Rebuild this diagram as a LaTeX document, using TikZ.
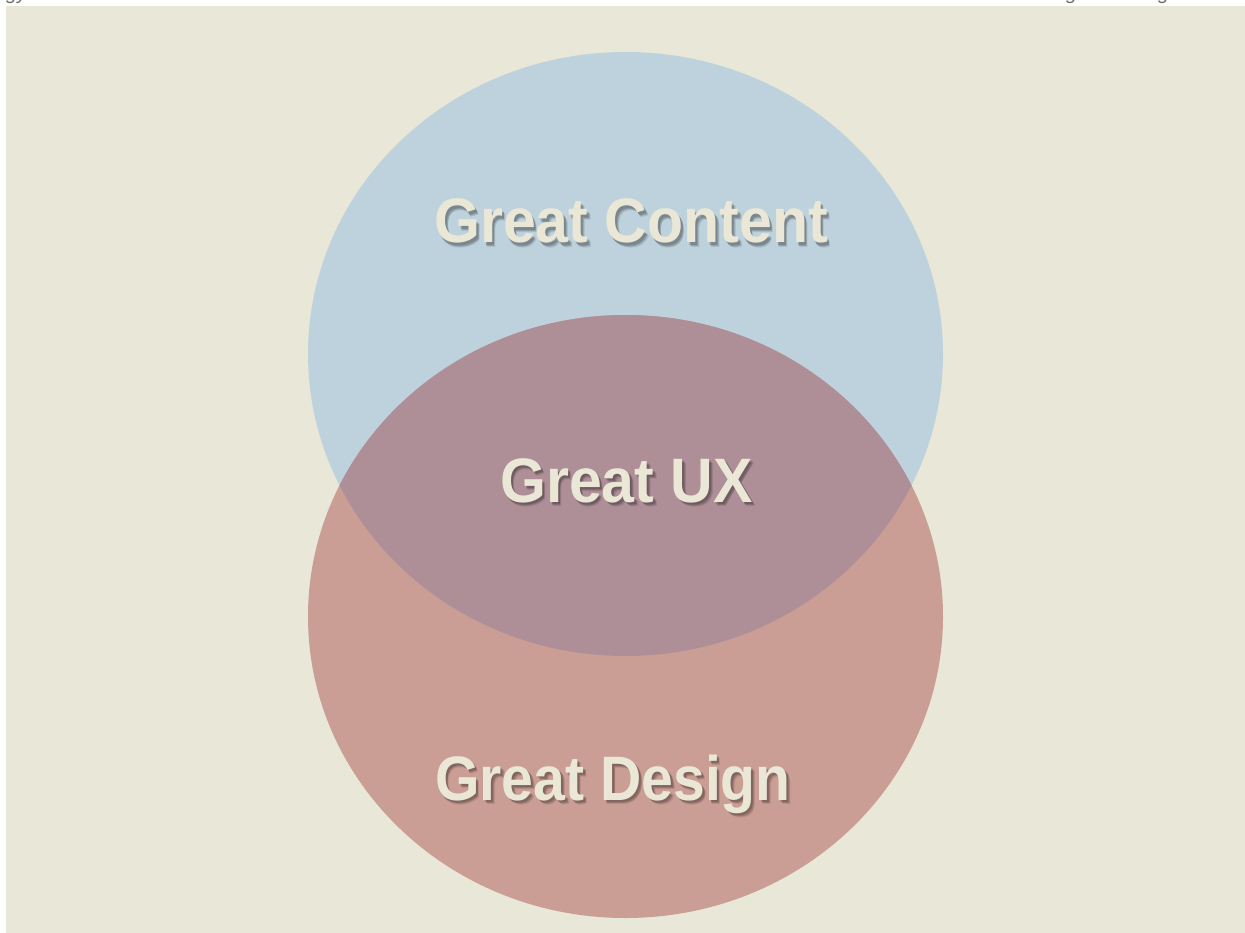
\documentclass[tikz,border=0pt]{standalone}
\usepackage{fontspec}
\setmainfont{Liberation Sans}
\newfontfamily\labelfont{Liberation Sans}[FakeStretch=0.94]
\newfontfamily\labelfontnarrow{Liberation Sans}[FakeStretch=0.91]
\definecolor{bgcream}{HTML}{E9E7D7}
\definecolor{contentblue}{HTML}{BED2DD}
\definecolor{designred}{HTML}{CA9E94}
\definecolor{uxmauve}{HTML}{AE8F97}
\definecolor{labelcream}{HTML}{EAE7D6}
\definecolor{fraggray}{HTML}{6E6E6E}
\tikzset{
  venntext/.style={text=labelcream, anchor=base, inner sep=0pt},
  vennshadow/.style={text=black, anchor=base, inner sep=0pt},
  fragtext/.style={font=\itshape\fontsize{20}{22}\selectfont, text=fraggray, anchor=base west, inner sep=0pt}
}
\newcommand{\vennlabel}[5]{%
  \node[vennshadow, font=#5, text opacity=0.10] at (#1+3.6,#2+4.2) {#4};
  \node[vennshadow, font=#5, text opacity=0.14] at (#1+2.8,#2+3.2) {#4};
  \node[vennshadow, font=#5, text opacity=0.16] at (#1+2,#2+2.4) {#4};
  \node[venntext, font=#5] (#3) at (#1,#2) {#4};
}
\begin{document}
\begin{tikzpicture}[x=1pt,y=-1pt]
  \useasboundingbox (0,0) rectangle (1245,933);
  \clip (0,0) rectangle (1245,933);
  % cut-off text fragments at the top edge
  \node[fragtext] (fragA) at (6,0) {gy};
  \node[fragtext] (fragB) at (1066,0) {g};
  \node[fragtext] (fragC) at (1158,0) {g};
  % background
  \fill[bgcream] (6,6) rectangle (1245,933);
  % circles
  \fill[contentblue] (625.5,354) ellipse [x radius=317.5pt, y radius=302pt];
  \fill[designred] (625.5,616.5) ellipse [x radius=317.5pt, y radius=301.5pt];
  \begin{scope}
    \clip (625.5,354) ellipse [x radius=317.5pt, y radius=302pt];
    \fill[uxmauve] (625.5,616.5) ellipse [x radius=317.5pt, y radius=301.5pt];
  \end{scope}
  % labels
  \vennlabel{631}{243}{content}{Great Content}{\labelfont\bfseries\fontsize{62.8}{64}\selectfont}
  \vennlabel{626.5}{502}{ux}{Great UX}{\labelfont\bfseries\fontsize{62.8}{64}\selectfont}
  \vennlabel{613}{800}{design}{Great Design}{\labelfontnarrow\bfseries\fontsize{62.8}{64}\selectfont}
\end{tikzpicture}
\end{document}
